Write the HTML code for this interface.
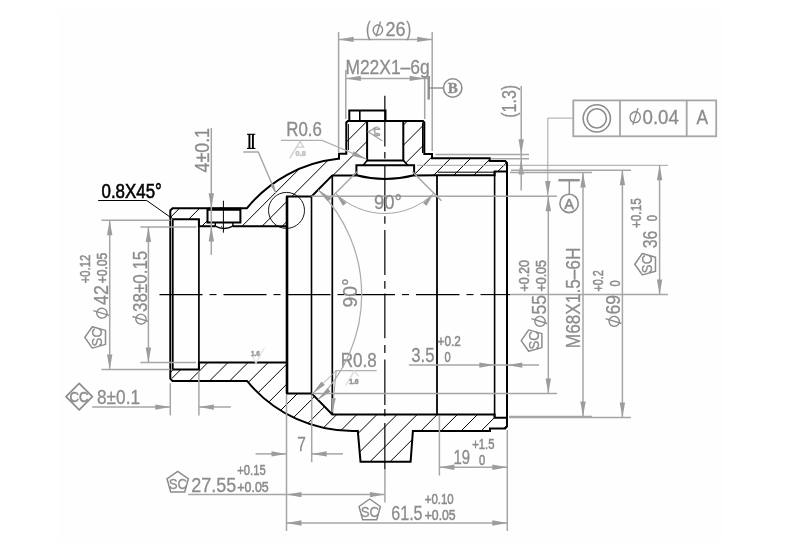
<!DOCTYPE html>
<html><head><meta charset="utf-8"><title>drawing</title>
<style>html,body{margin:0;padding:0;background:#fff;width:796px;height:560px;overflow:hidden}
</style></head>
<body>
<svg width="796" height="560" viewBox="0 0 796 560" style="display:block;position:absolute;left:0;top:0;filter:grayscale(1)">
<rect x="0" y="0" width="796" height="560" fill="#ffffff"/>
<rect x="59.2" y="8.9" width="663.8" height="532.8" fill="#fefefe"/>
<defs>
<clipPath id="cA"><path d="M170.3,213 L174.5,208.3 L246.8,208.3 A136.4,136.4 0 0 1 338,158.8 L339,158.8 L339,153.7 L346.3,153.7 L346.3,121 L367.1,121 L367.1,160.4 L363.2,165.3 L356.4,165.3 L356.4,175.4 L332.3,175.4 L311.5,196.5 L287,196.5 L287,226.2 L198.9,226.2 L198.9,219.3 L172.8,219.3 L170.3,216.5 Z M207.5,207 L240.4,207 L240.4,222.4 L232.9,222.4 L232.9,227 L215.3,227 L215.3,222.4 L207.5,222.4 Z M403.3,121 L424.3,121 L424.3,154 L432,154 L432,158.3 L489.7,158.3 L489.7,161.1 L507,161.1 L507,171.5 L494.6,171.5 L494.6,175.2 L414.1,175.4 L414.1,165.3 L407.8,165.3 L403.3,160.4 Z" clip-rule="evenodd"/></clipPath>
<clipPath id="cB"><path d="M170.3,376.5 L174.5,380.9 L247,380.9 A136.4,136.4 0 0 0 357.8,430.9 L360.5,461.7 L410.6,461.7 L412.9,430.9 L490,430.9 L490,428.4 L507,428.4 L507,417.7 L494.6,417.7 L494.6,414.5 L332.3,414.5 L311.6,393.4 L287,393.4 L287,362.6 L198.9,362.6 L198.9,369.6 L172.8,369.6 L170.3,372.6 Z"/></clipPath>
</defs>
<g clip-path="url(#cA)">
<line x1="267.70" y1="100.00" x2="127.70" y2="240.00" stroke="#000" stroke-width="1" />
<line x1="287.80" y1="100.00" x2="147.80" y2="240.00" stroke="#000" stroke-width="1" />
<line x1="307.90" y1="100.00" x2="167.90" y2="240.00" stroke="#000" stroke-width="1" />
<line x1="328.00" y1="100.00" x2="188.00" y2="240.00" stroke="#000" stroke-width="1" />
<line x1="348.10" y1="100.00" x2="208.10" y2="240.00" stroke="#000" stroke-width="1" />
<line x1="368.20" y1="100.00" x2="228.20" y2="240.00" stroke="#000" stroke-width="1" />
<line x1="388.30" y1="100.00" x2="248.30" y2="240.00" stroke="#000" stroke-width="1" />
<line x1="408.40" y1="100.00" x2="268.40" y2="240.00" stroke="#000" stroke-width="1" />
<line x1="428.50" y1="100.00" x2="288.50" y2="240.00" stroke="#000" stroke-width="1" />
<line x1="448.60" y1="100.00" x2="308.60" y2="240.00" stroke="#000" stroke-width="1" />
<line x1="468.70" y1="100.00" x2="328.70" y2="240.00" stroke="#000" stroke-width="1" />
<line x1="488.80" y1="100.00" x2="348.80" y2="240.00" stroke="#000" stroke-width="1" />
<line x1="508.90" y1="100.00" x2="368.90" y2="240.00" stroke="#000" stroke-width="1" />
<line x1="529.00" y1="100.00" x2="389.00" y2="240.00" stroke="#000" stroke-width="1" />
<line x1="549.10" y1="100.00" x2="409.10" y2="240.00" stroke="#000" stroke-width="1" />
<line x1="569.20" y1="100.00" x2="429.20" y2="240.00" stroke="#000" stroke-width="1" />
<line x1="589.30" y1="100.00" x2="449.30" y2="240.00" stroke="#000" stroke-width="1" />
<line x1="609.40" y1="100.00" x2="469.40" y2="240.00" stroke="#000" stroke-width="1" />
</g>
<g clip-path="url(#cB)">
<line x1="160.10" y1="350.00" x2="30.10" y2="480.00" stroke="#000" stroke-width="1" />
<line x1="180.20" y1="350.00" x2="50.20" y2="480.00" stroke="#000" stroke-width="1" />
<line x1="200.30" y1="350.00" x2="70.30" y2="480.00" stroke="#000" stroke-width="1" />
<line x1="220.40" y1="350.00" x2="90.40" y2="480.00" stroke="#000" stroke-width="1" />
<line x1="240.50" y1="350.00" x2="110.50" y2="480.00" stroke="#000" stroke-width="1" />
<line x1="260.60" y1="350.00" x2="130.60" y2="480.00" stroke="#000" stroke-width="1" />
<line x1="280.70" y1="350.00" x2="150.70" y2="480.00" stroke="#000" stroke-width="1" />
<line x1="300.80" y1="350.00" x2="170.80" y2="480.00" stroke="#000" stroke-width="1" />
<line x1="320.90" y1="350.00" x2="190.90" y2="480.00" stroke="#000" stroke-width="1" />
<line x1="341.00" y1="350.00" x2="211.00" y2="480.00" stroke="#000" stroke-width="1" />
<line x1="361.10" y1="350.00" x2="231.10" y2="480.00" stroke="#000" stroke-width="1" />
<line x1="381.20" y1="350.00" x2="251.20" y2="480.00" stroke="#000" stroke-width="1" />
<line x1="401.30" y1="350.00" x2="271.30" y2="480.00" stroke="#000" stroke-width="1" />
<line x1="421.40" y1="350.00" x2="291.40" y2="480.00" stroke="#000" stroke-width="1" />
<line x1="441.50" y1="350.00" x2="311.50" y2="480.00" stroke="#000" stroke-width="1" />
<line x1="461.60" y1="350.00" x2="331.60" y2="480.00" stroke="#000" stroke-width="1" />
<line x1="481.70" y1="350.00" x2="351.70" y2="480.00" stroke="#000" stroke-width="1" />
<line x1="501.80" y1="350.00" x2="371.80" y2="480.00" stroke="#000" stroke-width="1" />
<line x1="521.90" y1="350.00" x2="391.90" y2="480.00" stroke="#000" stroke-width="1" />
<line x1="542.00" y1="350.00" x2="412.00" y2="480.00" stroke="#000" stroke-width="1" />
<line x1="562.10" y1="350.00" x2="432.10" y2="480.00" stroke="#000" stroke-width="1" />
<line x1="582.20" y1="350.00" x2="452.20" y2="480.00" stroke="#000" stroke-width="1" />
<line x1="602.30" y1="350.00" x2="472.30" y2="480.00" stroke="#000" stroke-width="1" />
<line x1="622.40" y1="350.00" x2="492.40" y2="480.00" stroke="#000" stroke-width="1" />
</g>
<line x1="416.90" y1="165.30" x2="668.00" y2="165.30" stroke="#a6a6a6" stroke-width="1" />
<path d="M170.3,210.5 L172.5,208.3 L246.8,208.3 A136.4,136.4 0 0 1 338,158.8 L339,158.8 L339,153.7 L346.3,153.7 L346.3,122.5 L347.8,121 L422.9,121 L424.3,122.5 L424.3,154 L432,154 L432,158.3 L489.7,158.3 L489.7,161.1 L505.2,161.1 L507,163 L507,426.4 L505.2,428.4 L490,428.4 L490,430.9 L412.9,430.9 L410.6,461.7 L360.5,461.7 L357.8,430.9 A136.4,136.4 0 0 1 247,380.9 L172.5,380.9 L170.3,378.7 Z" stroke="#000" stroke-width="2.0" fill="none" stroke-linejoin="miter"/>
<path d="M349.3,121 L349.3,110.4 L385.5,110.4 L385.5,121" stroke="#000" stroke-width="2.0" fill="none" />
<line x1="359.80" y1="110.40" x2="359.80" y2="121.00" stroke="#000" stroke-width="1.6" />
<line x1="348.40" y1="124.00" x2="348.40" y2="150.00" stroke="#000" stroke-width="1" />
<line x1="422.70" y1="122.50" x2="422.70" y2="153.00" stroke="#000" stroke-width="1.4" />
<path d="M367.1,121 L367.1,160.4 L403.3,160.4 L403.3,121" stroke="#000" stroke-width="2.0" fill="none" />
<path d="M367.1,160.4 L363.2,165.3 M403.3,160.4 L407.8,165.3" stroke="#000" stroke-width="1.6" fill="none" />
<path d="M356.4,175.4 L356.4,165.3 L414.1,165.3 L414.1,175.4" stroke="#000" stroke-width="2.0" fill="none" />
<path d="M356.4,175.2 Q385,182.6 414.1,175.2" stroke="#000" stroke-width="2.0" fill="none" />
<path d="M311.5,196.5 L332.3,175.4 L356.4,175.4" stroke="#000" stroke-width="2.0" fill="none" />
<path d="M414.1,175.4 L437,175.2 L494.6,175.2 L494.6,171.5 L507,171.5" stroke="#000" stroke-width="2.0" fill="none" />
<line x1="437.70" y1="172.20" x2="494.00" y2="172.20" stroke="#000" stroke-width="1" />
<path d="M332.3,175.4 L332.3,414.5" stroke="#000" stroke-width="1.7" fill="none" />
<path d="M437,175.2 L437,414.5" stroke="#000" stroke-width="1.8" fill="none" />
<path d="M494.6,171.5 L494.6,417.7" stroke="#000" stroke-width="1.6" fill="none" />
<path d="M311.6,393.4 L332.3,414.5 L494.6,414.5 L494.6,417.7 L507,417.7" stroke="#000" stroke-width="2.0" fill="none" />
<path d="M287,226.2 L287,196.5 L311.5,196.5" stroke="#000" stroke-width="2.0" fill="none" />
<path d="M287,362.6 L287,393.4 L311.6,393.4" stroke="#000" stroke-width="2.0" fill="none" />
<line x1="287.00" y1="196.50" x2="287.00" y2="393.40" stroke="#000" stroke-width="2.6" />
<line x1="311.50" y1="196.50" x2="311.50" y2="393.40" stroke="#000" stroke-width="1.6" />
<path d="M172.8,219.3 L198.9,219.3 L198.9,226.2 L215.3,226.2 M232.9,226.2 L287,226.2" stroke="#000" stroke-width="2.0" fill="none" />
<path d="M172.8,369.6 L198.9,369.6 L198.9,362.6 L287,362.6" stroke="#000" stroke-width="2.0" fill="none" />
<line x1="198.90" y1="219.30" x2="198.90" y2="369.60" stroke="#000" stroke-width="1.7" />
<line x1="172.80" y1="219.30" x2="172.80" y2="369.60" stroke="#000" stroke-width="1.7" />
<path d="M170.3,216.3 L173,219.3 M170.3,372.7 L173,369.6" stroke="#000" stroke-width="1" fill="none" />
<path d="M207.5,208.3 L207.5,222.4 L240.4,222.4 L240.4,208.3" stroke="#000" stroke-width="2.0" fill="none" />
<line x1="207.50" y1="209.20" x2="240.40" y2="209.20" stroke="#000" stroke-width="3" />
<path d="M215.3,222.4 L215.3,226.2 M232.9,222.4 L232.9,226.2" stroke="#000" stroke-width="1.4" fill="none" />
<path d="M215.3,226.2 Q224,230.8 232.9,226.2" stroke="#000" stroke-width="1.4" fill="none" />
<line x1="223.40" y1="200.70" x2="223.40" y2="232.70" stroke="#000" stroke-width="1" />
<circle cx="286.5" cy="210.4" r="18" fill="none" stroke="#000" stroke-width="0.9"/>
<line x1="159.50" y1="294.60" x2="202.50" y2="294.60" stroke="#000" stroke-width="1.1" />
<line x1="209.50" y1="294.60" x2="216.50" y2="294.60" stroke="#000" stroke-width="1.1" />
<line x1="223.50" y1="294.60" x2="266.50" y2="294.60" stroke="#000" stroke-width="1.1" />
<line x1="273.50" y1="294.60" x2="280.50" y2="294.60" stroke="#000" stroke-width="1.1" />
<line x1="287.50" y1="294.60" x2="330.50" y2="294.60" stroke="#000" stroke-width="1.1" />
<line x1="337.50" y1="294.60" x2="344.50" y2="294.60" stroke="#000" stroke-width="1.1" />
<line x1="351.50" y1="294.60" x2="395.00" y2="294.60" stroke="#000" stroke-width="1.1" />
<line x1="402.00" y1="294.60" x2="409.00" y2="294.60" stroke="#000" stroke-width="1.1" />
<line x1="416.00" y1="294.60" x2="459.50" y2="294.60" stroke="#000" stroke-width="1.1" />
<line x1="466.50" y1="294.60" x2="473.50" y2="294.60" stroke="#000" stroke-width="1.1" />
<line x1="480.50" y1="294.60" x2="510.40" y2="294.60" stroke="#000" stroke-width="1.1" />
<line x1="384.85" y1="95.70" x2="384.85" y2="146.40" stroke="#000" stroke-width="1.2" />
<line x1="384.85" y1="152.10" x2="384.85" y2="158.60" stroke="#000" stroke-width="1.2" />
<line x1="384.85" y1="166.00" x2="384.85" y2="211.30" stroke="#000" stroke-width="1.2" />
<line x1="384.85" y1="216.30" x2="384.85" y2="223.80" stroke="#000" stroke-width="1.2" />
<line x1="384.85" y1="230.00" x2="384.85" y2="275.00" stroke="#000" stroke-width="1.2" />
<line x1="384.85" y1="281.00" x2="384.85" y2="288.80" stroke="#000" stroke-width="1.2" />
<line x1="384.85" y1="293.50" x2="384.85" y2="338.20" stroke="#000" stroke-width="1.2" />
<line x1="384.85" y1="345.00" x2="384.85" y2="352.90" stroke="#000" stroke-width="1.2" />
<line x1="384.85" y1="359.60" x2="384.85" y2="405.00" stroke="#000" stroke-width="1.2" />
<line x1="384.85" y1="409.00" x2="384.85" y2="416.30" stroke="#000" stroke-width="1.2" />
<line x1="384.85" y1="423.00" x2="384.85" y2="469.40" stroke="#000" stroke-width="1.2" />
<text x="101.50" y="198.20" font-size="19.3" fill="#000" stroke="#000" stroke-width="0.55" font-family="Liberation Sans" font-weight="normal" text-anchor="start" textLength="60.30" lengthAdjust="spacingAndGlyphs">0.8X45°</text>
<path d="M98.2,200.5 L146.7,200.5 L170.6,217.4" stroke="#000" stroke-width="1" fill="none" />
<line x1="338.60" y1="31.90" x2="338.60" y2="152.00" stroke="#a6a6a6" stroke-width="1.5" />
<line x1="432.20" y1="31.90" x2="432.20" y2="151.00" stroke="#a6a6a6" stroke-width="1.5" />
<line x1="338.60" y1="39.40" x2="432.20" y2="39.40" stroke="#a6a6a6" stroke-width="1.5" />
<polygon points="338.60,39.40 353.60,36.70 353.60,42.10" fill="#9c9c9c"/>
<polygon points="432.20,39.40 417.20,42.10 417.20,36.70" fill="#9c9c9c"/>
<text x="366.00" y="36.40" font-size="19.5" fill="#8c8c8c" stroke="#8c8c8c" stroke-width="0.3" font-family="Liberation Sans" font-weight="normal" text-anchor="start" textLength="4.60" lengthAdjust="spacingAndGlyphs">(</text>
<text x="406.60" y="36.40" font-size="19.5" fill="#8c8c8c" stroke="#8c8c8c" stroke-width="0.3" font-family="Liberation Sans" font-weight="normal" text-anchor="start" textLength="4.60" lengthAdjust="spacingAndGlyphs">)</text>
<ellipse cx="377.9" cy="30" rx="4.7" ry="5.0" fill="none" stroke="#8c8c8c" stroke-width="1.4" transform="rotate(14 377.9 30)"/>
<line x1="376.00" y1="36.60" x2="380.60" y2="21.50" stroke="#8c8c8c" stroke-width="1.4" />
<text x="385.60" y="35.90" font-size="19.3" fill="#8c8c8c" stroke="#8c8c8c" stroke-width="0.3" font-family="Liberation Sans" font-weight="normal" text-anchor="start" textLength="20.00" lengthAdjust="spacingAndGlyphs">26</text>
<line x1="345.80" y1="70.00" x2="345.80" y2="119.00" stroke="#a6a6a6" stroke-width="1.5" />
<line x1="424.70" y1="76.00" x2="424.70" y2="119.00" stroke="#a6a6a6" stroke-width="1.5" />
<line x1="345.80" y1="78.40" x2="430.00" y2="78.40" stroke="#a6a6a6" stroke-width="1.5" />
<polygon points="345.80,78.40 360.80,75.70 360.80,81.10" fill="#9c9c9c"/>
<polygon points="424.70,78.40 409.70,81.10 409.70,75.70" fill="#9c9c9c"/>
<text x="345.40" y="74.10" font-size="19.3" fill="#8c8c8c" stroke="#8c8c8c" stroke-width="0.3" font-family="Liberation Sans" font-weight="normal" text-anchor="start" textLength="84.30" lengthAdjust="spacingAndGlyphs">M22X1–6g</text>
<line x1="428.70" y1="76.00" x2="428.70" y2="99.60" stroke="#929292" stroke-width="2.5" />
<line x1="428.70" y1="88.00" x2="443.40" y2="88.00" stroke="#929292" stroke-width="1.5" />
<circle cx="452.7" cy="88" r="9.2" fill="none" stroke="#8c8c8c" stroke-width="1.6"/>
<text x="452.70" y="93.40" font-size="15" fill="#8c8c8c" stroke="#8c8c8c" stroke-width="0.3" font-family="Liberation Serif" font-weight="bold" text-anchor="middle">B</text>
<line x1="521.20" y1="85.90" x2="521.20" y2="190.50" stroke="#a6a6a6" stroke-width="1.5" />
<polygon points="521.20,154.30 518.50,139.30 523.90,139.30" fill="#9c9c9c"/>
<polygon points="521.20,159.40 523.90,174.40 518.50,174.40" fill="#9c9c9c"/>
<line x1="435.50" y1="154.50" x2="529.00" y2="154.50" stroke="#a6a6a6" stroke-width="1.5" />
<line x1="491.00" y1="158.80" x2="529.00" y2="158.80" stroke="#a6a6a6" stroke-width="1.5" />
<text x="516.40" y="117.80" font-size="19.3" fill="#8c8c8c" stroke="#8c8c8c" stroke-width="0.3" font-family="Liberation Sans" font-weight="normal" text-anchor="start" textLength="33.00" lengthAdjust="spacingAndGlyphs" transform="rotate(-90 516.40 117.80)">(1.3)</text>
<rect x="573.3" y="100.4" width="142.9" height="35.9" fill="none" stroke="#a6a6a6" stroke-width="1.8"/>
<line x1="620.00" y1="100.40" x2="620.00" y2="136.30" stroke="#a6a6a6" stroke-width="1.8" />
<line x1="686.70" y1="100.40" x2="686.70" y2="136.30" stroke="#a6a6a6" stroke-width="1.8" />
<circle cx="596.8" cy="118.4" r="13.6" fill="none" stroke="#8c8c8c" stroke-width="1.6"/>
<circle cx="596.8" cy="118.4" r="9.6" fill="none" stroke="#8c8c8c" stroke-width="1.6"/>
<ellipse cx="635.2" cy="117.2" rx="5.1450000000000005" ry="5.460000000000001" fill="none" stroke="#8c8c8c" stroke-width="1.4" transform="rotate(14 635.2 117.2)"/>
<line x1="632.89" y1="124.76" x2="637.93" y2="108.17" stroke="#8c8c8c" stroke-width="1.4" />
<text x="642.50" y="123.90" font-size="19.5" fill="#8c8c8c" stroke="#8c8c8c" stroke-width="0.3" font-family="Liberation Sans" font-weight="normal" text-anchor="start" textLength="36.40" lengthAdjust="spacingAndGlyphs">0.04</text>
<text x="696.60" y="123.90" font-size="19.5" fill="#8c8c8c" stroke="#8c8c8c" stroke-width="0.3" font-family="Liberation Sans" font-weight="normal" text-anchor="start" textLength="11.60" lengthAdjust="spacingAndGlyphs">A</text>
<path d="M573.3,118.1 L547.8,118.1 L547.8,196" stroke="#a6a6a6" stroke-width="1" fill="none" />
<polygon points="547.80,196.00 545.10,181.00 550.50,181.00" fill="#9c9c9c"/>
<line x1="558.30" y1="180.20" x2="579.70" y2="180.20" stroke="#929292" stroke-width="2.5" />
<line x1="569.30" y1="180.20" x2="569.30" y2="194.20" stroke="#929292" stroke-width="1.5" />
<circle cx="569.1" cy="203.4" r="9.2" fill="none" stroke="#8c8c8c" stroke-width="1.6"/>
<text x="569.10" y="208.60" font-size="14.5" fill="#8c8c8c" stroke="#8c8c8c" stroke-width="0.55" font-family="Liberation Sans" font-weight="normal" text-anchor="middle">A</text>
<line x1="659.60" y1="165.30" x2="659.60" y2="294.60" stroke="#a6a6a6" stroke-width="1.5" />
<polygon points="659.60,165.30 662.30,180.30 656.90,180.30" fill="#9c9c9c"/>
<polygon points="659.60,294.60 656.90,279.60 662.30,279.60" fill="#9c9c9c"/>
<line x1="510.40" y1="294.60" x2="668.00" y2="294.60" stroke="#a6a6a6" stroke-width="1.5" />
<text x="657.00" y="248.20" font-size="19.3" fill="#8c8c8c" stroke="#8c8c8c" stroke-width="0.3" font-family="Liberation Sans" font-weight="normal" text-anchor="start" textLength="17.60" lengthAdjust="spacingAndGlyphs" transform="rotate(-90 657.00 248.20)">36</text>
<text x="640.80" y="228.00" font-size="14" fill="#8c8c8c" stroke="#8c8c8c" stroke-width="0.55" font-family="Liberation Sans" font-weight="normal" text-anchor="start" textLength="29.70" lengthAdjust="spacingAndGlyphs" transform="rotate(-90 640.80 228.00)">+0.15</text>
<text x="657.00" y="221.20" font-size="14" fill="#8c8c8c" stroke="#8c8c8c" stroke-width="0.55" font-family="Liberation Sans" font-weight="normal" text-anchor="start" textLength="6.20" lengthAdjust="spacingAndGlyphs" transform="rotate(-90 657.00 221.20)">0</text>
<g transform="translate(645.80 264.20) rotate(-90)"><polygon points="0.00,-11.00 10.70,-3.50 7.00,9.70 -7.00,9.70 -10.70,-3.50" fill="none" stroke="#8c8c8c" stroke-width="1.5" stroke-linejoin="round"/><text x="-9" y="6.6" font-size="15.5" fill="#8c8c8c" stroke="#8c8c8c" stroke-width="0.3" font-family="Liberation Sans" textLength="18.4" lengthAdjust="spacingAndGlyphs">SC</text></g>
<line x1="622.40" y1="170.20" x2="622.40" y2="417.50" stroke="#a6a6a6" stroke-width="1.5" />
<polygon points="622.40,170.20 625.10,185.20 619.70,185.20" fill="#9c9c9c"/>
<polygon points="622.40,417.50 619.70,402.50 625.10,402.50" fill="#9c9c9c"/>
<line x1="511.00" y1="170.20" x2="631.00" y2="170.20" stroke="#a6a6a6" stroke-width="1.5" />
<line x1="509.00" y1="417.50" x2="631.00" y2="417.50" stroke="#a6a6a6" stroke-width="1.5" />
<g transform="translate(620 321.3) rotate(-90)">
<ellipse cx="0" cy="-5.8" rx="4.9" ry="5.2" fill="none" stroke="#8c8c8c" stroke-width="1.4" transform="rotate(14 0 -5.8)"/>
<line x1="-2.2" y1="1.4" x2="2.6" y2="-14.4" stroke="#8c8c8c" stroke-width="1.4"/>
</g>
<text x="620.00" y="314.60" font-size="19.3" fill="#8c8c8c" stroke="#8c8c8c" stroke-width="0.3" font-family="Liberation Sans" font-weight="normal" text-anchor="start" textLength="19.60" lengthAdjust="spacingAndGlyphs" transform="rotate(-90 620.00 314.60)">69</text>
<text x="603.00" y="291.60" font-size="14" fill="#8c8c8c" stroke="#8c8c8c" stroke-width="0.55" font-family="Liberation Sans" font-weight="normal" text-anchor="start" textLength="21.40" lengthAdjust="spacingAndGlyphs" transform="rotate(-90 603.00 291.60)">+0.2</text>
<text x="620.00" y="286.60" font-size="14" fill="#8c8c8c" stroke="#8c8c8c" stroke-width="0.55" font-family="Liberation Sans" font-weight="normal" text-anchor="start" textLength="6.20" lengthAdjust="spacingAndGlyphs" transform="rotate(-90 620.00 286.60)">0</text>
<line x1="583.00" y1="172.60" x2="583.00" y2="416.60" stroke="#a6a6a6" stroke-width="1.5" />
<polygon points="583.00,172.60 585.70,187.60 580.30,187.60" fill="#9c9c9c"/>
<polygon points="583.00,416.60 580.30,401.60 585.70,401.60" fill="#9c9c9c"/>
<line x1="510.00" y1="172.60" x2="592.00" y2="172.60" stroke="#a6a6a6" stroke-width="1.5" />
<line x1="509.00" y1="416.60" x2="592.00" y2="416.60" stroke="#a6a6a6" stroke-width="1.5" />
<text x="580.50" y="348.20" font-size="19.3" fill="#8c8c8c" stroke="#8c8c8c" stroke-width="0.3" font-family="Liberation Sans" font-weight="normal" text-anchor="start" textLength="100.60" lengthAdjust="spacingAndGlyphs" transform="rotate(-90 580.50 348.20)">M68X1.5–6H</text>
<line x1="548.30" y1="196.20" x2="548.30" y2="393.40" stroke="#a6a6a6" stroke-width="1.5" />
<polygon points="548.30,196.20 551.00,211.20 545.60,211.20" fill="#9c9c9c"/>
<polygon points="548.30,393.40 545.60,378.40 551.00,378.40" fill="#9c9c9c"/>
<line x1="311.50" y1="196.30" x2="557.00" y2="196.30" stroke="#a6a6a6" stroke-width="1.5" />
<line x1="311.60" y1="393.40" x2="557.00" y2="393.40" stroke="#a6a6a6" stroke-width="1.5" />
<g transform="translate(545.8 321.3) rotate(-90)">
<ellipse cx="0" cy="-5.8" rx="4.9" ry="5.2" fill="none" stroke="#8c8c8c" stroke-width="1.4" transform="rotate(14 0 -5.8)"/>
<line x1="-2.2" y1="1.4" x2="2.6" y2="-14.4" stroke="#8c8c8c" stroke-width="1.4"/>
</g>
<text x="545.80" y="314.60" font-size="19.3" fill="#8c8c8c" stroke="#8c8c8c" stroke-width="0.3" font-family="Liberation Sans" font-weight="normal" text-anchor="start" textLength="19.60" lengthAdjust="spacingAndGlyphs" transform="rotate(-90 545.80 314.60)">55</text>
<text x="529.00" y="291.60" font-size="14" fill="#8c8c8c" stroke="#8c8c8c" stroke-width="0.55" font-family="Liberation Sans" font-weight="normal" text-anchor="start" textLength="31.60" lengthAdjust="spacingAndGlyphs" transform="rotate(-90 529.00 291.60)">+0.20</text>
<text x="545.80" y="291.60" font-size="14" fill="#8c8c8c" stroke="#8c8c8c" stroke-width="0.55" font-family="Liberation Sans" font-weight="normal" text-anchor="start" textLength="31.60" lengthAdjust="spacingAndGlyphs" transform="rotate(-90 545.80 291.60)">+0.05</text>
<g transform="translate(532.20 340.60) rotate(-90)"><polygon points="0.00,-11.00 10.70,-3.50 7.00,9.70 -7.00,9.70 -10.70,-3.50" fill="none" stroke="#8c8c8c" stroke-width="1.5" stroke-linejoin="round"/><text x="-9" y="6.6" font-size="15.5" fill="#8c8c8c" stroke="#8c8c8c" stroke-width="0.3" font-family="Liberation Sans" textLength="18.4" lengthAdjust="spacingAndGlyphs">SC</text></g>
<line x1="408.80" y1="365.10" x2="539.00" y2="365.10" stroke="#a6a6a6" stroke-width="1.5" />
<polygon points="494.30,365.10 479.30,367.80 479.30,362.40" fill="#9c9c9c"/>
<polygon points="507.30,365.10 522.30,362.40 522.30,367.80" fill="#9c9c9c"/>
<text x="411.30" y="362.30" font-size="19.3" fill="#8c8c8c" stroke="#8c8c8c" stroke-width="0.3" font-family="Liberation Sans" font-weight="normal" text-anchor="start" textLength="23.20" lengthAdjust="spacingAndGlyphs">3.5</text>
<text x="437.60" y="346.20" font-size="14" fill="#8c8c8c" stroke="#8c8c8c" stroke-width="0.55" font-family="Liberation Sans" font-weight="normal" text-anchor="start" textLength="23.20" lengthAdjust="spacingAndGlyphs">+0.2</text>
<text x="444.40" y="362.30" font-size="14" fill="#8c8c8c" stroke="#8c8c8c" stroke-width="0.55" font-family="Liberation Sans" font-weight="normal" text-anchor="start" textLength="6.20" lengthAdjust="spacingAndGlyphs">0</text>
<line x1="439.40" y1="416.00" x2="439.40" y2="475.50" stroke="#a6a6a6" stroke-width="1.5" />
<line x1="507.30" y1="430.00" x2="507.30" y2="531.00" stroke="#a6a6a6" stroke-width="1.5" />
<line x1="439.40" y1="467.30" x2="507.30" y2="467.30" stroke="#a6a6a6" stroke-width="1.5" />
<polygon points="439.40,467.30 454.40,464.60 454.40,470.00" fill="#9c9c9c"/>
<polygon points="507.30,467.30 492.30,470.00 492.30,464.60" fill="#9c9c9c"/>
<text x="453.40" y="464.40" font-size="19.3" fill="#8c8c8c" stroke="#8c8c8c" stroke-width="0.3" font-family="Liberation Sans" font-weight="normal" text-anchor="start" textLength="16.60" lengthAdjust="spacingAndGlyphs">19</text>
<text x="472.20" y="448.50" font-size="14" fill="#8c8c8c" stroke="#8c8c8c" stroke-width="0.55" font-family="Liberation Sans" font-weight="normal" text-anchor="start" textLength="22.20" lengthAdjust="spacingAndGlyphs">+1.5</text>
<text x="478.90" y="464.60" font-size="14" fill="#8c8c8c" stroke="#8c8c8c" stroke-width="0.55" font-family="Liberation Sans" font-weight="normal" text-anchor="start" textLength="6.20" lengthAdjust="spacingAndGlyphs">0</text>
<line x1="286.50" y1="395.00" x2="286.50" y2="531.00" stroke="#a6a6a6" stroke-width="1.5" />
<line x1="286.50" y1="523.00" x2="507.30" y2="523.00" stroke="#a6a6a6" stroke-width="1.5" />
<polygon points="286.50,523.00 301.50,520.30 301.50,525.70" fill="#9c9c9c"/>
<polygon points="507.30,523.00 492.30,525.70 492.30,520.30" fill="#9c9c9c"/>
<text x="391.20" y="519.70" font-size="19.3" fill="#8c8c8c" stroke="#8c8c8c" stroke-width="0.3" font-family="Liberation Sans" font-weight="normal" text-anchor="start" textLength="31.40" lengthAdjust="spacingAndGlyphs">61.5</text>
<text x="424.70" y="503.70" font-size="14" fill="#8c8c8c" stroke="#8c8c8c" stroke-width="0.55" font-family="Liberation Sans" font-weight="normal" text-anchor="start" textLength="29.00" lengthAdjust="spacingAndGlyphs">+0.10</text>
<text x="424.70" y="520.00" font-size="14" fill="#8c8c8c" stroke="#8c8c8c" stroke-width="0.55" font-family="Liberation Sans" font-weight="normal" text-anchor="start" textLength="31.00" lengthAdjust="spacingAndGlyphs">+0.05</text>
<g transform="translate(369.70 510.00) rotate(0)"><polygon points="0.00,-11.00 10.70,-3.50 7.00,9.70 -7.00,9.70 -10.70,-3.50" fill="none" stroke="#8c8c8c" stroke-width="1.5" stroke-linejoin="round"/><text x="-9" y="6.6" font-size="15.5" fill="#8c8c8c" stroke="#8c8c8c" stroke-width="0.3" font-family="Liberation Sans" textLength="18.4" lengthAdjust="spacingAndGlyphs">SC</text></g>
<line x1="188.20" y1="494.60" x2="384.90" y2="494.60" stroke="#a6a6a6" stroke-width="1.5" />
<polygon points="286.50,494.60 301.50,491.90 301.50,497.30" fill="#9c9c9c"/>
<polygon points="384.90,494.60 369.90,497.30 369.90,491.90" fill="#9c9c9c"/>
<line x1="384.90" y1="469.00" x2="384.90" y2="502.40" stroke="#a6a6a6" stroke-width="1.5" />
<text x="191.20" y="491.60" font-size="19.3" fill="#8c8c8c" stroke="#8c8c8c" stroke-width="0.3" font-family="Liberation Sans" font-weight="normal" text-anchor="start" textLength="45.00" lengthAdjust="spacingAndGlyphs">27.55</text>
<text x="237.30" y="475.30" font-size="14" fill="#8c8c8c" stroke="#8c8c8c" stroke-width="0.55" font-family="Liberation Sans" font-weight="normal" text-anchor="start" textLength="28.40" lengthAdjust="spacingAndGlyphs">+0.15</text>
<text x="237.30" y="492.00" font-size="14" fill="#8c8c8c" stroke="#8c8c8c" stroke-width="0.55" font-family="Liberation Sans" font-weight="normal" text-anchor="start" textLength="31.40" lengthAdjust="spacingAndGlyphs">+0.05</text>
<g transform="translate(177.70 482.30) rotate(0)"><polygon points="0.00,-11.00 10.70,-3.50 7.00,9.70 -7.00,9.70 -10.70,-3.50" fill="none" stroke="#8c8c8c" stroke-width="1.5" stroke-linejoin="round"/><text x="-9" y="6.6" font-size="15.5" fill="#8c8c8c" stroke="#8c8c8c" stroke-width="0.3" font-family="Liberation Sans" textLength="18.4" lengthAdjust="spacingAndGlyphs">SC</text></g>
<line x1="311.70" y1="395.00" x2="311.70" y2="462.20" stroke="#a6a6a6" stroke-width="1.5" />
<line x1="255.60" y1="453.90" x2="286.50" y2="453.90" stroke="#a6a6a6" stroke-width="1.5" />
<polygon points="286.50,453.90 271.50,456.60 271.50,451.20" fill="#9c9c9c"/>
<line x1="311.70" y1="453.90" x2="343.00" y2="453.90" stroke="#a6a6a6" stroke-width="1.5" />
<polygon points="311.70,453.90 326.70,451.20 326.70,456.60" fill="#9c9c9c"/>
<text x="297.30" y="451.30" font-size="19.3" fill="#8c8c8c" stroke="#8c8c8c" stroke-width="0.3" font-family="Liberation Sans" font-weight="normal" text-anchor="start" textLength="8.60" lengthAdjust="spacingAndGlyphs">7</text>
<line x1="170.30" y1="383.20" x2="170.30" y2="415.40" stroke="#a6a6a6" stroke-width="1.5" />
<line x1="198.90" y1="371.40" x2="198.90" y2="415.40" stroke="#a6a6a6" stroke-width="1.5" />
<line x1="92.20" y1="407.10" x2="170.30" y2="407.10" stroke="#a6a6a6" stroke-width="1.5" />
<polygon points="170.30,407.10 155.30,409.80 155.30,404.40" fill="#9c9c9c"/>
<line x1="198.90" y1="407.10" x2="230.90" y2="407.10" stroke="#a6a6a6" stroke-width="1.5" />
<polygon points="198.90,407.10 213.90,404.40 213.90,409.80" fill="#9c9c9c"/>
<text x="97.00" y="404.10" font-size="19.3" fill="#8c8c8c" stroke="#8c8c8c" stroke-width="0.3" font-family="Liberation Sans" font-weight="normal" text-anchor="start" textLength="43.00" lengthAdjust="spacingAndGlyphs">8±0.1</text>
<polygon points="66,396.6 79.2,383.4 92.4,396.6 79.2,409.8" fill="none" stroke="#8c8c8c" stroke-width="1.7" stroke-linejoin="round"/>
<text x="69.60" y="401.90" font-size="14.6" fill="#8c8c8c" stroke="#8c8c8c" stroke-width="0.55" font-family="Liberation Sans" font-weight="normal" text-anchor="start" textLength="19.00" lengthAdjust="spacingAndGlyphs">CC</text>
<line x1="109.70" y1="220.30" x2="109.70" y2="369.50" stroke="#a6a6a6" stroke-width="1.5" />
<polygon points="109.70,220.30 112.40,235.30 107.00,235.30" fill="#9c9c9c"/>
<polygon points="109.70,369.50 107.00,354.50 112.40,354.50" fill="#9c9c9c"/>
<line x1="101.50" y1="220.30" x2="170.30" y2="220.30" stroke="#a6a6a6" stroke-width="1.5" />
<line x1="101.50" y1="369.50" x2="170.30" y2="369.50" stroke="#a6a6a6" stroke-width="1.5" />
<g transform="translate(107.7 313.2) rotate(-90)">
<ellipse cx="0" cy="-5.8" rx="4.9" ry="5.2" fill="none" stroke="#8c8c8c" stroke-width="1.4" transform="rotate(14 0 -5.8)"/>
<line x1="-2.2" y1="1.4" x2="2.6" y2="-14.4" stroke="#8c8c8c" stroke-width="1.4"/>
</g>
<text x="107.70" y="305.00" font-size="19.3" fill="#8c8c8c" stroke="#8c8c8c" stroke-width="0.3" font-family="Liberation Sans" font-weight="normal" text-anchor="start" textLength="19.80" lengthAdjust="spacingAndGlyphs" transform="rotate(-90 107.70 305.00)">42</text>
<text x="89.60" y="283.20" font-size="14" fill="#8c8c8c" stroke="#8c8c8c" stroke-width="0.55" font-family="Liberation Sans" font-weight="normal" text-anchor="start" textLength="28.50" lengthAdjust="spacingAndGlyphs" transform="rotate(-90 89.60 283.20)">+0.12</text>
<text x="107.40" y="283.20" font-size="14" fill="#8c8c8c" stroke="#8c8c8c" stroke-width="0.55" font-family="Liberation Sans" font-weight="normal" text-anchor="start" textLength="30.40" lengthAdjust="spacingAndGlyphs" transform="rotate(-90 107.40 283.20)">+0.05</text>
<g transform="translate(95.80 337.40) rotate(-90)"><polygon points="0.00,-11.00 10.70,-3.50 7.00,9.70 -7.00,9.70 -10.70,-3.50" fill="none" stroke="#8c8c8c" stroke-width="1.5" stroke-linejoin="round"/><text x="-9" y="6.6" font-size="15.5" fill="#8c8c8c" stroke="#8c8c8c" stroke-width="0.3" font-family="Liberation Sans" textLength="18.4" lengthAdjust="spacingAndGlyphs">SC</text></g>
<line x1="148.40" y1="227.10" x2="148.40" y2="362.50" stroke="#a6a6a6" stroke-width="1.5" />
<polygon points="148.40,227.10 151.10,242.10 145.70,242.10" fill="#9c9c9c"/>
<polygon points="148.40,362.50 145.70,347.50 151.10,347.50" fill="#9c9c9c"/>
<line x1="140.40" y1="227.10" x2="196.50" y2="227.10" stroke="#a6a6a6" stroke-width="1.5" />
<line x1="140.40" y1="362.50" x2="196.00" y2="362.50" stroke="#a6a6a6" stroke-width="1.5" />
<g transform="translate(146.8 319.1) rotate(-90)">
<ellipse cx="0" cy="-5.8" rx="4.9" ry="5.2" fill="none" stroke="#8c8c8c" stroke-width="1.4" transform="rotate(14 0 -5.8)"/>
<line x1="-2.2" y1="1.4" x2="2.6" y2="-14.4" stroke="#8c8c8c" stroke-width="1.4"/>
</g>
<text x="146.80" y="311.90" font-size="19.3" fill="#8c8c8c" stroke="#8c8c8c" stroke-width="0.3" font-family="Liberation Sans" font-weight="normal" text-anchor="start" textLength="61.20" lengthAdjust="spacingAndGlyphs" transform="rotate(-90 146.80 311.90)">38±0.15</text>
<line x1="211.30" y1="128.00" x2="211.30" y2="254.90" stroke="#a6a6a6" stroke-width="1.5" />
<polygon points="211.30,208.20 208.60,193.20 214.00,193.20" fill="#9c9c9c"/>
<polygon points="211.30,226.60 214.00,241.60 208.60,241.60" fill="#9c9c9c"/>
<text x="209.10" y="172.40" font-size="19.3" fill="#8c8c8c" stroke="#8c8c8c" stroke-width="0.3" font-family="Liberation Sans" font-weight="normal" text-anchor="start" textLength="44.40" lengthAdjust="spacingAndGlyphs" transform="rotate(-90 209.10 172.40)">4±0.1</text>
<line x1="249.40" y1="134.00" x2="249.40" y2="148.60" stroke="#000" stroke-width="1.9" />
<line x1="252.90" y1="134.00" x2="252.90" y2="148.60" stroke="#000" stroke-width="1.9" />
<line x1="247.00" y1="134.30" x2="255.30" y2="134.30" stroke="#000" stroke-width="1.1" />
<line x1="247.00" y1="148.40" x2="255.30" y2="148.40" stroke="#000" stroke-width="1.1" />
<path d="M243.2,152 L258.3,152 L275.7,192.8" stroke="#a6a6a6" stroke-width="1.4" fill="none" />
<polygon points="276.20,194.00 270.62,185.51 273.93,184.10" fill="#9c9c9c"/>
<text x="286.30" y="136.40" font-size="19.6" fill="#8c8c8c" stroke="#8c8c8c" stroke-width="0.3" font-family="Liberation Sans" font-weight="normal" text-anchor="start" textLength="35.60" lengthAdjust="spacingAndGlyphs">R0.6</text>
<path d="M281,140.4 L322.2,140.4 L366.7,159.3" stroke="#b0b0b0" stroke-width="1.2" fill="none" />
<polygon points="366.70,159.30 351.96,155.65 353.83,151.23" fill="#9c9c9c"/>
<path d="M289.7,158.3 L300.4,140.9 M297.2,147.2 L303.6,147.2 L300.4,141.6" stroke="#cfcfcf" stroke-width="1.3" fill="none" />
<text x="295.60" y="156.40" font-size="7" fill="#c4c4c4" stroke="#c4c4c4" stroke-width="0.55" font-family="Liberation Sans" font-weight="bold" text-anchor="start" textLength="10.20" lengthAdjust="spacingAndGlyphs">0.8</text>
<text x="340.80" y="366.70" font-size="19.6" fill="#8c8c8c" stroke="#8c8c8c" stroke-width="0.3" font-family="Liberation Sans" font-weight="normal" text-anchor="start" textLength="36.00" lengthAdjust="spacingAndGlyphs">R0.8</text>
<line x1="335.60" y1="370.60" x2="376.70" y2="370.60" stroke="#b0b0b0" stroke-width="1.2" />
<line x1="336.20" y1="370.60" x2="332.30" y2="412.30" stroke="#a6a6a6" stroke-width="1" />
<polygon points="332.30,412.60 331.45,397.96 335.83,398.37" fill="#9c9c9c"/>
<line x1="336.20" y1="370.60" x2="312.40" y2="393.80" stroke="#a6a6a6" stroke-width="1" />
<polygon points="312.40,393.80 321.47,381.61 324.82,385.05" fill="#9c9c9c"/>
<path d="M345.7,385.4 L354.5,370.8 L358.6,376.5" stroke="#dcdcdc" stroke-width="1.3" fill="none" />
<text x="349.20" y="383.70" font-size="7" fill="#969696" stroke="#969696" stroke-width="0.55" font-family="Liberation Sans" font-weight="bold" text-anchor="start" textLength="9.40" lengthAdjust="spacingAndGlyphs">1.6</text>
<path d="M252.2,356 L256,363.2 L264.4,347.8" stroke="#e2e2e2" stroke-width="1.3" fill="none" />
<text x="250.90" y="355.60" font-size="7" fill="#9c9c9c" stroke="#9c9c9c" stroke-width="0.55" font-family="Liberation Sans" font-weight="bold" text-anchor="start" textLength="8.80" lengthAdjust="spacingAndGlyphs">1.6</text>
<path d="M377.5,126.6 L368.2,131.9 L382.2,140.8" stroke="#a6a6a6" stroke-width="1.3" fill="none" />
<text x="374.3" y="127.2" font-size="8.5" font-weight="bold" fill="#9a9a9a" stroke="#9a9a9a" stroke-width="0.5" font-family="Liberation Sans" textLength="9.4" lengthAdjust="spacingAndGlyphs" transform="rotate(90 374.3 127.2)">1.6</text>
<line x1="328.00" y1="200.70" x2="357.00" y2="171.70" stroke="#a6a6a6" stroke-width="1.5" />
<line x1="441.40" y1="200.70" x2="412.40" y2="171.70" stroke="#a6a6a6" stroke-width="1.5" />
<path d="M335.56,193.14 A69.5,69.5 0 0 0 433.84,193.14" fill="none" stroke="#a6a6a6" stroke-width="1"/>
<polygon points="335.56,193.14 346.47,202.97 342.89,205.86" fill="#9c9c9c"/>
<polygon points="433.84,193.14 426.51,205.86 422.93,202.97" fill="#9c9c9c"/>
<text x="374.00" y="209.00" font-size="19.3" fill="#8c8c8c" stroke="#8c8c8c" stroke-width="0.3" font-family="Liberation Sans" font-weight="normal" text-anchor="start" textLength="28.00" lengthAdjust="spacingAndGlyphs">90°</text>
<path d="M318.26,189.74 A148.3,148.3 0 0 1 318.26,399.46" fill="none" stroke="#adadad" stroke-width="1.25"/>
<polygon points="318.26,189.74 330.58,197.73 327.50,201.15" fill="#9c9c9c"/>
<polygon points="318.26,399.46 327.50,388.05 330.58,391.47" fill="#9c9c9c"/>
<text x="357.00" y="307.40" font-size="19.3" fill="#8c8c8c" stroke="#8c8c8c" stroke-width="0.3" font-family="Liberation Sans" font-weight="normal" text-anchor="start" textLength="29.00" lengthAdjust="spacingAndGlyphs" transform="rotate(-90 357.00 307.40)">90°</text>
</svg>
</body></html>
